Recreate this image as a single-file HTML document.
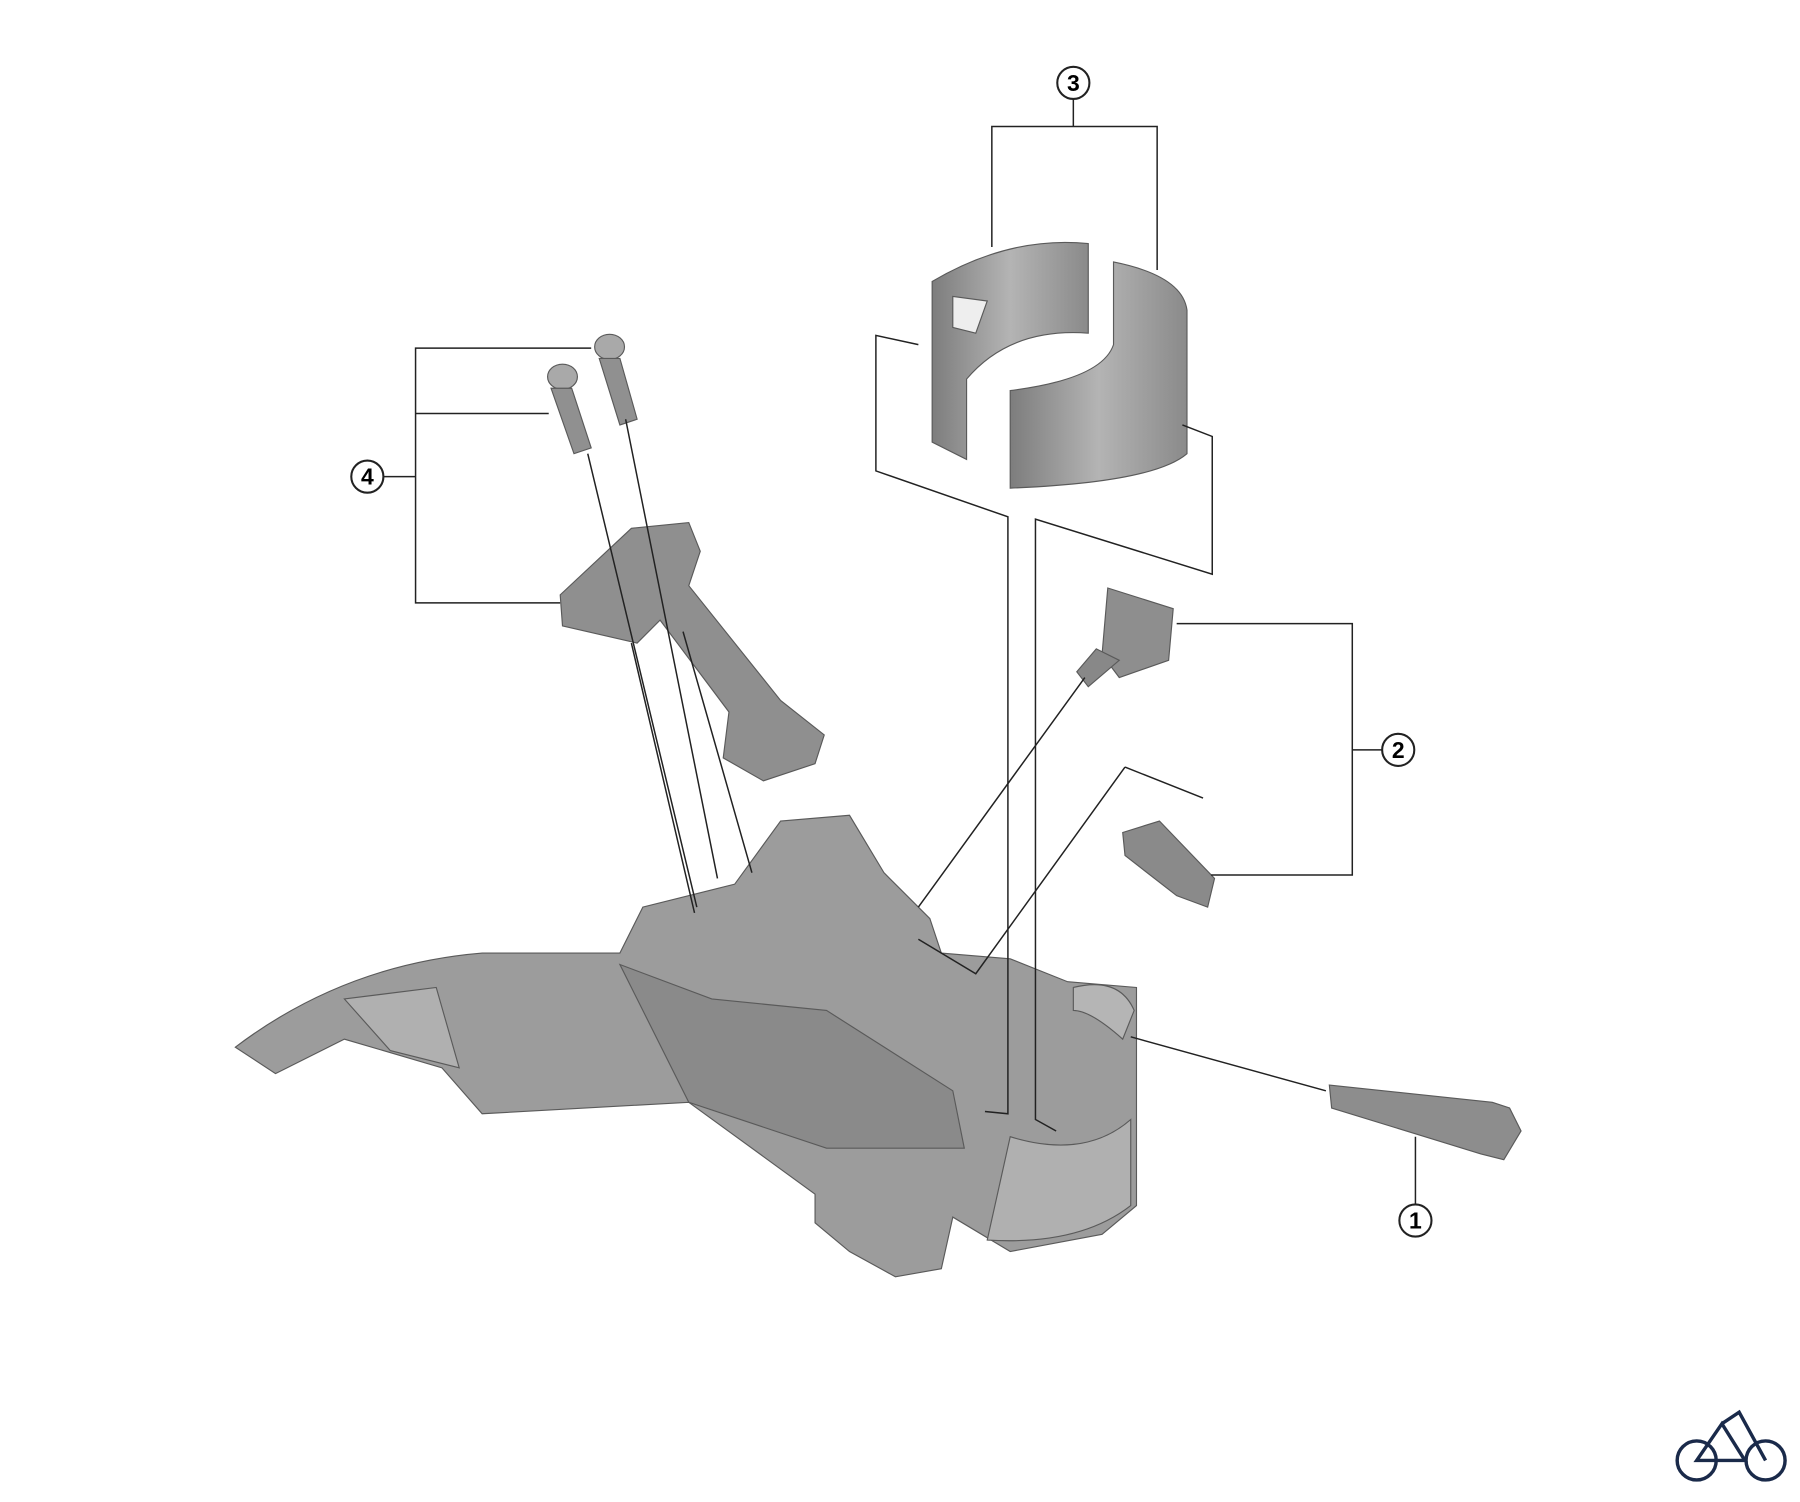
<!DOCTYPE html>
<html><head><meta charset="utf-8"><style>
html,body{margin:0;padding:0;background:#fff;width:1800px;height:1502px;overflow:hidden}
svg{display:block}
text{font-family:"Liberation Sans",sans-serif;font-size:20px;font-weight:bold;text-anchor:middle}
</style></head><body>
<svg width="1800" height="1502" viewBox="0 0 1568 1308" xmlns="http://www.w3.org/2000/svg">
<defs>
<linearGradient id="g1" x1="0" x2="1"><stop offset="0" stop-color="#7d7d7d"/><stop offset=".5" stop-color="#b4b4b4"/><stop offset="1" stop-color="#8a8a8a"/></linearGradient>
</defs>
<g fill="#9a9a9a" stroke="#5a5a5a" stroke-width="1">
<path d="M812,245 Q880,205 948,212 L948,290 Q880,285 842,330 L842,400 L812,385 Z" fill="url(#g1)"/>
<path d="M970,228 Q1030,240 1034,270 L1034,395 Q1005,420 880,425 L880,340 Q960,330 970,300 Z" fill="url(#g1)"/>
<path d="M830,258 L860,262 L850,290 L830,285 Z" fill="#eee"/>
<path d="M965,512 L1022,530 L1018,575 L975,590 L960,570 Z" fill="#8e8e8e"/>
<path d="M955,565 L975,575 L948,598 L938,585 Z" fill="#888"/>
<path d="M978,725 L1010,715 L1058,765 L1052,790 L1025,780 L980,745 Z" fill="#8a8a8a"/>
<ellipse cx="531" cy="302" rx="13" ry="11" fill="#a9a9a9"/>
<path d="M522,312 L540,312 L555,365 L540,370 Z" fill="#909090"/>
<ellipse cx="490" cy="328" rx="13" ry="11" fill="#a9a9a9"/>
<path d="M480,338 L498,338 L515,390 L500,395 Z" fill="#909090"/>
<path d="M488,518 L550,460 L600,455 L610,480 L600,510 L680,610 L718,640 L710,665 L665,680 L630,660 L635,620 L575,540 L555,560 L490,545 Z" fill="#8f8f8f"/>
<path d="M1158,945 L1300,960 L1315,965 L1325,985 L1310,1010 L1290,1005 L1160,965 Z" fill="#8d8d8d"/>
<path d="M205,912 Q300,840 420,830 L540,830 L560,790 L640,770 L680,715 L740,710 L770,760 L810,800 L820,830 L880,835 L930,855 L990,860 L990,1050 L960,1075 L880,1090 L830,1060 L820,1105 L780,1112 L740,1090 L710,1065 L710,1040 L600,960 L420,970 L385,930 L300,905 L240,935 Z" fill="#9c9c9c"/>
<path d="M880,990 Q945,1010 985,975 L985,1050 Q940,1085 860,1080 Z" fill="#b0b0b0"/>
<path d="M935,860 Q975,850 988,880 L978,905 Q950,880 935,880 Z" fill="#b5b5b5"/>
<path d="M540,840 L620,870 L720,880 L830,950 L840,1000 L720,1000 L600,960 Z" fill="#8a8a8a"/>
<path d="M300,870 L380,860 L400,930 L340,915 Z" fill="#b0b0b0"/>
</g>
<g fill="none" stroke="#222" stroke-width="1.3">
<path d="M935,86 V110 M864,215 V110 H1008 V235"/>
<path d="M800,300 L763,292 V410 L878,450 V970 L858,968"/>
<path d="M1030,370 L1056,380 V500 L902,452 V975 L920,985"/>
<path d="M334,415 H362 M515,303 H362 V525 H488 M478,360 H362"/>
<path d="M512,395 L607,790 M545,365 L625,765 M550,560 L605,795 M595,550 L655,760"/>
<path d="M1025,543 H1178 V762 H1055 M1178,653 H1204"/>
<path d="M945,590 L800,790 M980,668 L1048,695 M980,668 L850,848 L800,818"/>
<path d="M985,903 L1155,950 M1233,1049 V990"/>
</g>
<g fill="#fff" stroke="#222" stroke-width="1.8">
<circle cx="935" cy="72" r="14"/><circle cx="320" cy="415" r="14"/>
<circle cx="1218" cy="653" r="14"/><circle cx="1233" cy="1063" r="14"/>
</g>
<text x="935" y="79">3</text><text x="320" y="422">4</text>
<text x="1218" y="660">2</text><text x="1233" y="1070">1</text>
<g fill="none" stroke="#1a2a4a" stroke-width="3">
<circle cx="1478" cy="1272" r="17"/><circle cx="1538" cy="1272" r="17"/>
<path d="M1478,1272 L1500,1240 L1520,1272 Z M1500,1240 L1515,1230 L1538,1272"/>
</g>
</svg>
</body></html>
